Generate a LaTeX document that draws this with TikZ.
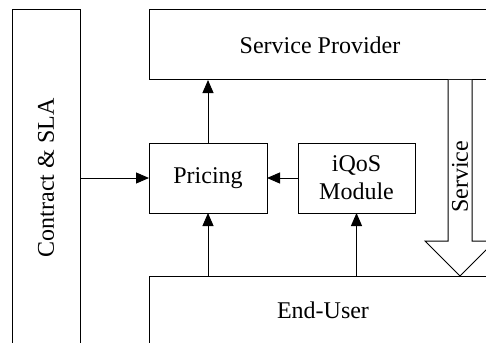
\documentclass[tikz,border=0pt]{standalone}
\usepackage{fontspec}
\setmainfont{Liberation Serif}
\usetikzlibrary{arrows.meta}
\begin{document}
\begin{tikzpicture}[x=1pt,y=-1pt,
  box/.style={draw=black,line width=1pt,inner sep=0pt,outer sep=0pt,font=\fontsize{24}{28}\selectfont,align=center},
  lbl/.style={inner sep=0pt,font=\fontsize{24}{28}\selectfont},
  conn/.style={line width=1pt,-{Triangle[length=13pt,width=11pt]}}]
\useasboundingbox (0,0) rectangle (486,342);
\clip (0,0) rectangle (486,342);
\node[box,minimum width=68pt,minimum height=336pt] (contract) at (46,178) {};
\node[lbl,rotate=90] (contractlbl) at (contract.center) {Contract \& SLA};
\node[box,minimum width=342pt,minimum height=70pt] (sp) at (320,45) {Service Provider};
\node[box,minimum width=348pt,minimum height=69pt] (eu) at (323,310.5) {End-User};
\node[box,minimum width=118pt,minimum height=70pt] (pricing) at (208,178) {Pricing};
\node[box,minimum width=117pt,minimum height=70pt] (iqos) at (356.5,178) {iQoS\\Module};
\coordinate (st) at (460,80);
\coordinate (tip) at (460,276);
\draw[line width=1pt,fill=white] ([xshift=-12pt]st) -- ([xshift=-12pt,yshift=35pt]tip) -- ([xshift=-35pt,yshift=35pt]tip) -- (tip) -- ([xshift=35pt,yshift=35pt]tip) -- ([xshift=12pt,yshift=35pt]tip) -- ([xshift=12pt]st);
\node[lbl,rotate=90] (servicelbl) at (460,177) {Service};
\draw[conn] (pricing.north) -- (pricing.north |- sp.south);
\draw[conn] (contract.east |- pricing.west) -- (pricing.west);
\draw[conn] (iqos.west) -- (pricing.east);
\draw[conn] (pricing.south |- eu.north) -- (pricing.south);
\draw[conn] (iqos.south |- eu.north) -- (iqos.south);
\end{tikzpicture}
\end{document}
